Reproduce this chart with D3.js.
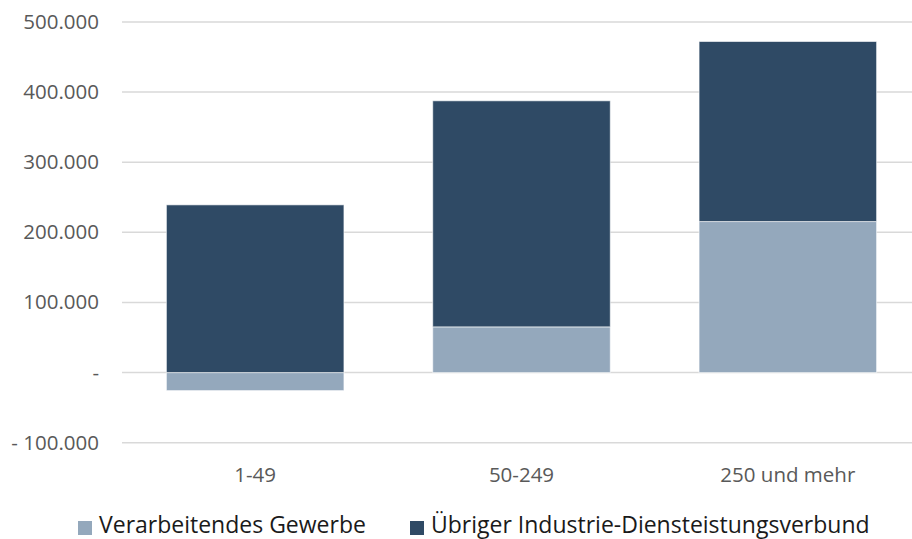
<!DOCTYPE html>
<html>
<head>
<meta charset="utf-8">
<script src="https://cdn.jsdelivr.net/npm/d3@7"></script>
<style>
  body { margin: 0; background: #fff; }
  text { font-family: "Open Sans", sans-serif; }
</style>
</head>
<body>
<script>
const width = 912;
const height = 539;

// data
const categories = ['1-49', '50-249', '250 und mehr'];
const seriesNames = ['Verarbeitendes Gewerbe', 'Übriger Industrie-Diensteistungsverbund'];
const verarbeitend = [-25700, 65200, 215400];
const uebriger = [239200, 322400, 256800];
const tickValues = [-100000, 0, 100000, 200000, 300000, 400000, 500000];
const colors = ['#94a8bc', '#2f4a65'];

const x = d3.scaleBand()
    .domain(categories)
    .range([122, 921])
    .paddingInner(1/3)
    .paddingOuter(1/6);

const y = d3.scaleLinear()
    .domain([-100000, 500000])
    .range([442.7, 22]);

const fmt = v => v === 0 ? '-' : (v < 0 ? '- ' : '') + d3.format(',')(Math.abs(v)).replace(/,/g, '.');

const svg = d3.select('body').append('svg')
    .attr('width', width)
    .attr('height', height);

// gridlines
svg.append('g')
    .selectAll('line')
    .data(tickValues)
    .join('line')
    .attr('x1', 122)
    .attr('x2', width)
    .attr('y1', d => y(d))
    .attr('y2', d => y(d))
    .attr('stroke', '#d9d9d9')
    .attr('stroke-width', 1.5);

// y labels
svg.append('g')
    .selectAll('text')
    .data(tickValues)
    .join('text')
    .attr('x', 99)
    .attr('y', d => y(d) + 7)
    .attr('text-anchor', 'end')
    .attr('fill', '#595959')
    .style('font-size', '20.5px')
    .text(fmt);

// stack: positives from zero upward, negatives from zero downward
const rows = categories.map((c, i) => ({cat: c, vals: [verarbeitend[i], uebriger[i]]}));
const segs = [];
rows.forEach(r => {
    let pos = 0, neg = 0;
    r.vals.forEach((v, s) => {
        if (v >= 0) { segs.push({cat: r.cat, s, y0: pos, y1: pos + v}); pos += v; }
        else { segs.push({cat: r.cat, s, y0: neg + v, y1: neg}); neg += v; }
    });
});

svg.append('g')
    .selectAll('rect')
    .data(segs)
    .join('rect')
    .attr('x', d => x(d.cat))
    .attr('width', x.bandwidth())
    .attr('y', d => y(d.y1))
    .attr('height', d => y(d.y0) - y(d.y1))
    .attr('fill', d => colors[d.s])
    .attr('stroke', '#ffffff')
    .attr('stroke-opacity', 0.6)
    .attr('stroke-width', 1);

// category labels
svg.append('g')
    .selectAll('text')
    .data(categories)
    .join('text')
    .attr('x', d => x(d) + x.bandwidth() / 2)
    .attr('y', 482)
    .attr('text-anchor', 'middle')
    .attr('fill', '#595959')
    .style('font-size', '20.5px')
    .text(d => d);

// legend
const legendX = [78, 410];
const legend = svg.append('g')
    .selectAll('g')
    .data(seriesNames)
    .join('g')
    .attr('transform', (d, i) => `translate(${legendX[i]},0)`);

legend.append('rect')
    .attr('y', 521)
    .attr('width', 14)
    .attr('height', 14)
    .attr('fill', (d, i) => colors[i]);

legend.append('text')
    .attr('x', 21)
    .attr('y', 533)
    .attr('fill', '#1a1a1a')
    .style('font-size', '23px')
    .text(d => d);
</script>
</body>
</html>
